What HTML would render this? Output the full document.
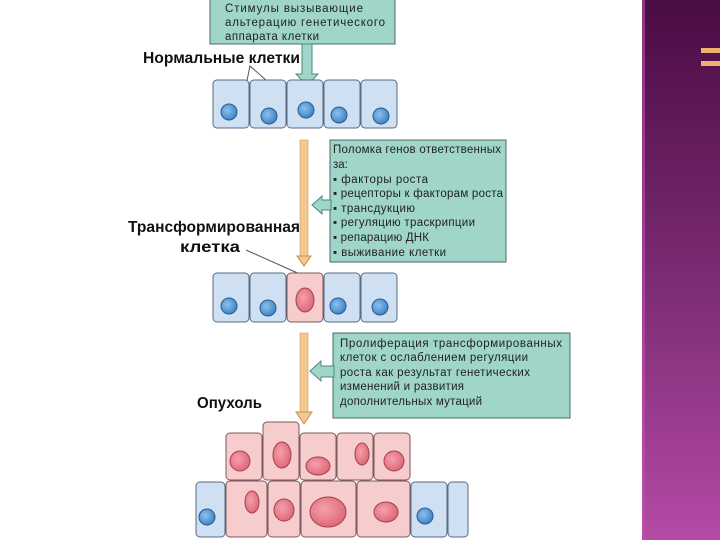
<!DOCTYPE html>
<html><head><meta charset="utf-8"><style>
html,body{margin:0;padding:0;background:#fff;}
svg{display:block;}
text{font-family:"Liberation Sans","DejaVu Sans",sans-serif;}
</style></head><body>
<svg width="720" height="540" viewBox="0 0 720 540" xmlns="http://www.w3.org/2000/svg">
<defs>
<linearGradient id="pg" x1="0" y1="0" x2="0" y2="1">
<stop offset="0" stop-color="#4a0c44"/><stop offset="0.5" stop-color="#7a2a72"/><stop offset="1" stop-color="#b44aa4"/>
</linearGradient>
<radialGradient id="bn" cx="0.4" cy="0.4" r="0.6"><stop offset="0" stop-color="#8ec0ea"/><stop offset="1" stop-color="#3f86c8"/></radialGradient>
<radialGradient id="rn" cx="0.4" cy="0.4" r="0.6"><stop offset="0" stop-color="#f5a0aa"/><stop offset="1" stop-color="#e06a7a"/></radialGradient>
</defs>
<rect x="642" y="0" width="78" height="540" fill="url(#pg)"/>
<rect x="642" y="0" width="3" height="540" fill="#c050b0" opacity="0.6"/>
<rect x="701" y="48" width="19" height="5" fill="#f0b070"/>
<rect x="701" y="61" width="19" height="5" fill="#f0b070"/>

<!-- top box -->
<rect x="210" y="-1" width="185" height="45" fill="#9fd6c9" stroke="#4a6a66" stroke-width="1"/>
<text font-size="11.5" fill="#222"><tspan x="225" y="12" textLength="138" lengthAdjust="spacing">Стимулы вызывающие</tspan><tspan x="225" y="26" textLength="160" lengthAdjust="spacing">альтерацию генетического</tspan><tspan x="225" y="40" textLength="94" lengthAdjust="spacing">аппарата клетки</tspan></text>
<polygon points="302,44 312,44 312,74 318,74 307,86 296,74 302,74" fill="#9fd6c9" stroke="#4a8a80"/>
<text x="143" y="63" font-size="15.5" font-weight="bold" fill="#111" textLength="157" lengthAdjust="spacingAndGlyphs">Нормальные клетки</text>
<polyline points="245,90 250,66 275,88" fill="none" stroke="#555" stroke-width="1"/>

<!-- row 1 -->
<g stroke="#5a6a80" stroke-width="1" fill="#cfe0f3">
<rect x="213" y="80" width="36" height="48" rx="4"/><rect x="250" y="80" width="36" height="48" rx="4"/><rect x="287" y="80" width="36" height="48" rx="4"/><rect x="324" y="80" width="36" height="48" rx="4"/><rect x="361" y="80" width="36" height="48" rx="4"/>
</g>
<g fill="url(#bn)" stroke="#2a5a90">
<circle cx="229" cy="112" r="8"/><circle cx="269" cy="116" r="8"/><circle cx="306" cy="110" r="8"/><circle cx="339" cy="115" r="8"/><circle cx="381" cy="116" r="8"/>
</g>

<!-- arrow 1 -->
<rect x="300" y="140" width="8" height="118" fill="#f5c890" stroke="#c09050" stroke-width="0.5"/>
<polygon points="297,256 311,256 304,266" fill="#f5c890" stroke="#c09050"/>
<rect x="330" y="140" width="176" height="122" fill="#9fd6c9" stroke="#4a6a66"/>
<polygon points="312,205 322,196 322,200 331,200 331,210 322,210 322,214" fill="#9fd6c9" stroke="#4a8a80"/>
<text font-size="11.5" fill="#222"><tspan x="333" y="153" textLength="168" lengthAdjust="spacing">Поломка генов ответственных</tspan><tspan x="333" y="168">за:</tspan><tspan x="333" y="183" textLength="95" lengthAdjust="spacing">▪ факторы роста</tspan><tspan x="333" y="197" textLength="170" lengthAdjust="spacing">▪ рецепторы к факторам роста</tspan><tspan x="333" y="212" textLength="82" lengthAdjust="spacing">▪ трансдукцию</tspan><tspan x="333" y="226" textLength="142" lengthAdjust="spacing">▪ регуляцию траскрипции</tspan><tspan x="333" y="241" textLength="96" lengthAdjust="spacing">▪ репарацию ДНК</tspan><tspan x="333" y="256" textLength="113" lengthAdjust="spacing">▪ выживание клетки</tspan></text>
<text x="128" y="232" font-size="15.5" font-weight="bold" fill="#111" textLength="172" lengthAdjust="spacingAndGlyphs">Трансформированная</text>
<text x="180" y="252" font-size="15.5" font-weight="bold" fill="#111" textLength="60" lengthAdjust="spacingAndGlyphs">клетка</text>
<line x1="246" y1="250" x2="302" y2="275" stroke="#555"/>

<!-- row 2 -->
<g stroke="#5a6a80" stroke-width="1" fill="#cfe0f3">
<rect x="213" y="273" width="36" height="49" rx="4"/><rect x="250" y="273" width="36" height="49" rx="4"/><rect x="324" y="273" width="36" height="49" rx="4"/><rect x="361" y="273" width="36" height="49" rx="4"/>
</g>
<rect x="287" y="273" width="36" height="49" rx="4" fill="#f6cccc" stroke="#7a5a60"/>
<g fill="url(#bn)" stroke="#2a5a90">
<circle cx="229" cy="306" r="8"/><circle cx="268" cy="308" r="8"/><circle cx="338" cy="306" r="8"/><circle cx="380" cy="307" r="8"/>
</g>
<ellipse cx="305" cy="300" rx="9" ry="12" fill="url(#rn)" stroke="#a04050"/>

<!-- arrow 2 -->
<rect x="300" y="333" width="8" height="80" fill="#f5c890" stroke="#c09050" stroke-width="0.5"/>
<polygon points="296,412 312,412 304,424" fill="#f5c890" stroke="#c09050"/>
<rect x="333" y="333" width="237" height="85" fill="#9fd6c9" stroke="#4a6a66"/>
<polygon points="310,371 321,361 321,366 334,366 334,377 321,377 321,381" fill="#9fd6c9" stroke="#4a8a80"/>
<text font-size="11.5" fill="#222"><tspan x="340" y="347" textLength="222" lengthAdjust="spacing">Пролиферация трансформированных</tspan><tspan x="340" y="361" textLength="188" lengthAdjust="spacing">клеток с ослаблением регуляции</tspan><tspan x="340" y="376" textLength="190" lengthAdjust="spacing">роста как результат генетических</tspan><tspan x="340" y="390" textLength="124" lengthAdjust="spacing">изменений и развития</tspan><tspan x="340" y="405" textLength="142" lengthAdjust="spacing">дополнительных мутаций</tspan></text>
<text x="197" y="408" font-size="15.5" font-weight="bold" fill="#111" textLength="65" lengthAdjust="spacingAndGlyphs">Опухоль</text>

<!-- tumor -->
<g stroke="#7a5a60" stroke-width="1" fill="#f6cccc">
<rect x="226" y="433" width="36" height="47" rx="4"/><rect x="263" y="422" width="36" height="58" rx="4"/><rect x="300" y="433" width="36" height="47" rx="4"/><rect x="337" y="433" width="36" height="47" rx="4"/><rect x="374" y="433" width="36" height="47" rx="4"/>
<rect x="226" y="481" width="41" height="56" rx="4"/><rect x="268" y="481" width="32" height="56" rx="4"/><rect x="301" y="481" width="55" height="56" rx="4"/><rect x="357" y="481" width="53" height="56" rx="4"/>
</g>
<g stroke="#5a6a80" stroke-width="1" fill="#cfe0f3">
<rect x="196" y="482" width="29" height="55" rx="4"/><rect x="411" y="482" width="36" height="55" rx="4"/><rect x="448" y="482" width="20" height="55" rx="4"/>
</g>
<g fill="url(#rn)" stroke="#a04050">
<circle cx="240" cy="461" r="10"/><ellipse cx="282" cy="455" rx="9" ry="13"/><ellipse cx="318" cy="466" rx="12" ry="9"/><ellipse cx="362" cy="454" rx="7" ry="11"/><circle cx="394" cy="461" r="10"/>
<ellipse cx="252" cy="502" rx="7" ry="11"/><ellipse cx="284" cy="510" rx="10" ry="11"/><ellipse cx="328" cy="512" rx="18" ry="15"/><ellipse cx="386" cy="512" rx="12" ry="10"/>
</g>
<g fill="url(#bn)" stroke="#2a5a90">
<circle cx="207" cy="517" r="8"/><circle cx="425" cy="516" r="8"/>
</g>
</svg>
</body></html>
